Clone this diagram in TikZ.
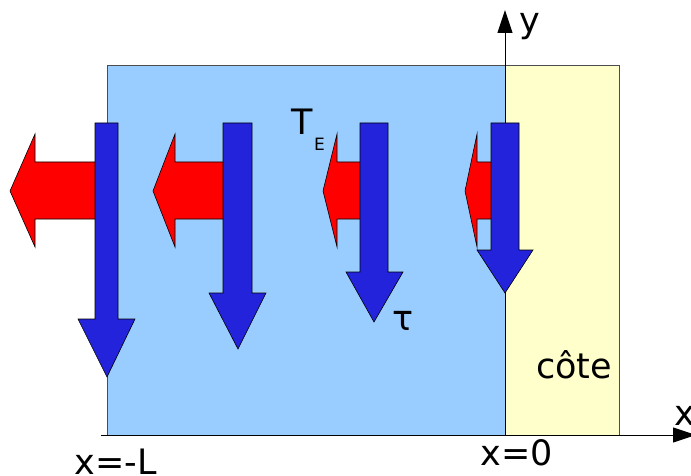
\documentclass[tikz,border=0pt]{standalone}
\usepackage{fontspec}
\setmainfont{DejaVu Sans}
\usetikzlibrary{arrows.meta}
\definecolor{sea}{HTML}{99CCFF}
\definecolor{coast}{HTML}{FFFFCC}
\definecolor{arrblue}{HTML}{2323DC}
\definecolor{arrred}{HTML}{FF0000}
\definecolor{edge}{HTML}{4D4D4D}
% red arrow: #1 shaft right end x, #2 head base x, #3 tip x
\newcommand\myredarrow[3]{%
  \filldraw[redarr] (#1,162) -- (#2,162) -- (#2,134) -- (#3,191) -- (#2,247) -- (#2,219) -- (#1,219) -- cycle;}
% blue arrow: #1 left, #2 right, #3 shaft bottom, #4 head left, #5 head right, #6 tip x, #7 tip y
\newcommand\mybluearrow[7]{%
  \filldraw[bluearr] (#1,123) -- (#2,123) -- (#2,#3) -- (#5,#3) -- (#6,#7) -- (#4,#3) -- (#1,#3) -- cycle;}
\begin{document}
\begin{tikzpicture}[x=1pt,y=-1pt,
  lab/.style={font=\fontsize{35}{38}\selectfont, inner sep=0pt},
  sublab/.style={font=\fontsize{17}{19}\selectfont, inner sep=0pt},
  redarr/.style={fill=arrred, draw=black, line width=0.6pt, line join=miter},
  bluearr/.style={fill=arrblue, draw=black, line width=0.6pt, line join=miter},
  axis/.style={draw=black, line width=1pt, -{Triangle[length=23pt,width=15pt]}}]
\useasboundingbox (0,0) rectangle (691,476);
% regions
\fill[sea] (107,66) rectangle (505,435);
\fill[coast] (505,66) rectangle (619,435);
\draw[edge, line width=1pt] (107,435) -- (107,66) -- (619,66) -- (619,435);
% axes
\coordinate (xstart) at (101,435);
\coordinate (xend) at (696,435);
\coordinate (ystart) at (505,435);
\coordinate (yend) at (505,10);
\draw[axis] (xstart) -- (xend);
\draw[axis] (ystart) -- (yend);
% red arrows (T_E)
\myredarrow{100}{35}{10}
\myredarrow{230}{175}{153}
\myredarrow{365}{337}{323}
\myredarrow{495}{477}{465}
% blue arrows (tau)
\mybluearrow{95}{118}{319}{78}{135}{107}{377}
\mybluearrow{223}{252}{293}{209}{266}{238}{349}
\mybluearrow{360}{388}{272}{346}{403}{374}{322}
\mybluearrow{491}{519}{250}{477}{533}{505}{293}
% labels
\node[lab, anchor=base] (xL) at (116,474) {x=-L};
\node[lab, anchor=base] (x0) at (517,465) {x=0};
\node[lab, anchor=base] (cote) at (574,378) {côte};
\node[lab, anchor=base west] (ylab) at (519,33) {y};
\node[lab, anchor=base west] (xlab) at (674,425) {x};
\node[lab, anchor=base west] (T) at (291,135) {T};
\node[sublab, anchor=base west] (E) at (314,151) {E};
\node[lab, anchor=base west] (tau) at (392,330) {τ};
\end{tikzpicture}
\end{document}
